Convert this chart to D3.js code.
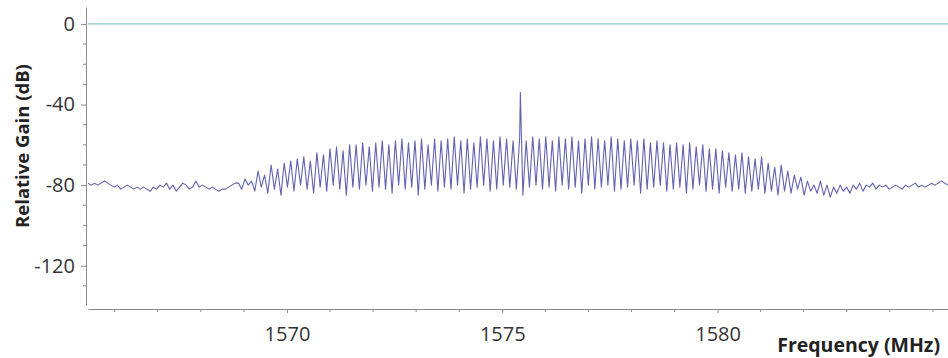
<!DOCTYPE html>
<html><head><meta charset="utf-8">
<script src="https://cdn.jsdelivr.net/npm/d3@7"></script>
<style>body{margin:0;background:#fff}svg{display:block}</style>
</head><body>
<svg id="c" width="948" height="358"></svg>
<script>
// Sweep settings (MHz)
const sweepStart = 1565.38;
const sweepStop = 1585.35;
// Noise floor left of the comb (dB)
const floorLeft = [-79,-80,-79,-80,-79,-78,-79,-80,-81,-80,-82,-81,-80,-81,-82,-81,-82,-81,-82,-83,-81,-82,-80,-81,-79,-82,-80,-83,-81,-79,-80,-82,-81,-78,-81,-80,-81,-82,-81,-82,-83,-82,-82,-81,-80,-79];
// Comb peaks (dB)
const combPeaks = [-79,-77,-78,-73,-75,-70,-72,-69,-68,-67,
  -66,-68,-64,-65,-62,-61,-63,-60,-60,-59,
  -61,-59,-58,-60,-58,-57,-59,-58,-57,-60,
  -57,-58,-57,-56,-58,-57,-59,-56,-57,-58,
  -56,-57,-58,-57,-58,-56,-57,-56,-58,-56,
  -57,-56,-58,-57,-56,-57,-58,-56,-57,-58,
  -57,-58,-57,-59,-58,-59,-60,-59,-60,-59,
  -61,-60,-62,-62,-63,-64,-65,-64,-66,-67,
  -66,-69,-71,-70,-73,-75,-76,-78];
// Comb troughs (dB)
const combTroughs = [-82,-80,-83,-81,-84,-82,-85,-81,-83,-80,
  -82,-84,-81,-83,-80,-82,-85,-81,-82,-80,
  -83,-81,-82,-84,-80,-82,-81,-85,-82,-80,
  -83,-81,-82,-80,-84,-82,-81,-80,-83,-82,
  -80,-81,-82,-85,-81,-80,-82,-81,-83,-80,
  -82,-81,-84,-80,-82,-81,-80,-83,-82,-81,
  -80,-84,-82,-81,-80,-83,-82,-81,-84,-82,
  -80,-83,-82,-84,-81,-83,-82,-84,-83,-82,
  -84,-83,-85,-83,-84,-82,-85,-83];
// Noise floor right of the comb (dB)
const floorRight = [-80,-84,-78,-85,-80,-86,-81,-84,-80,-83,-81,-84,-80,-82,-79,-83,-80,-81,-79,-82,-80,-81,-80,-82,-81,-80,-81,-82,-80,-81,-80,-79,-81,-80,-81,-80,-79,-80,-79,-78,-79,-80];
// Carrier spike
const carrierFreq = [1575.42];
const carrierDb = [-34];
// Axis ticks
const yTicks = [-120, -80, -40, 0];
const xTicks = [1570, 1575, 1580];
const xTitle = "Frequency (MHz)";
const yTitle = "Relative Gain (dB)";

// Build trace
const vals = [...floorLeft];
combPeaks.forEach((p, i) => { vals.push(p); if (i < combTroughs.length) vals.push(combTroughs[i]); });
vals.push(...floorRight);
const step = (sweepStop - sweepStart) / (vals.length - 1);
let trace = vals.map((v, i) => ({f: sweepStart + i * step, db: v}));
carrierFreq.forEach((f, i) => trace.push({f, db: carrierDb[i]}));
trace.sort((a, b) => a.f - b.f);

const svg = d3.select("#c");
const x = d3.scaleLinear().domain([1565.38, 1585.35]).range([88, 948]);
const y = d3.scaleLinear().domain([-139.5, 8.4]).range([305, 7]);

svg.append("defs").append("clipPath").attr("id", "clip")
  .append("rect").attr("x", 88).attr("y", 7).attr("width", 860).attr("height", 298);

// zero line
svg.append("line").attr("x1", 88).attr("x2", 948).attr("y1", y(0)).attr("y2", y(0))
  .attr("stroke", "#86c3cc").attr("stroke-width", 1.2);

// trace
svg.append("path").datum(trace).attr("clip-path", "url(#clip)")
  .attr("fill", "none").attr("stroke", "#6262b0").attr("stroke-width", 1.1)
  .attr("stroke-linejoin", "round")
  .attr("d", d3.line().x(d => x(d.f)).y(d => y(d.db)));

const axisColor = "#8a8a8a";
const labelFont = "'Open Sans', sans-serif";

// Y axis
const yAxis = svg.append("g").attr("transform", "translate(86,0)")
  .call(d3.axisLeft(y).tickValues(yTicks).tickSize(5).tickSizeOuter(0).tickPadding(6).tickFormat(d => String(d)));
yAxis.selectAll("text").attr("font-family", labelFont).attr("font-size", 20).attr("fill", "#333");
yAxis.selectAll("line, path").attr("stroke", axisColor);
const yMinor = d3.range(-130, 10, 10).filter(v => !yTicks.includes(v));
svg.append("g").selectAll("line").data(yMinor).join("line")
  .attr("x1", 83).attr("x2", 86).attr("y1", d => y(d)).attr("y2", d => y(d)).attr("stroke", axisColor);

// X axis
const xAxis = svg.append("g").attr("transform", "translate(0,309)")
  .call(d3.axisBottom(x).tickValues(xTicks).tickSize(4).tickSizeOuter(0).tickPadding(14).tickFormat(d => String(d)));
xAxis.selectAll("text").attr("font-family", labelFont).attr("font-size", 20).attr("fill", "#333");
xAxis.selectAll("line, path").attr("stroke", axisColor);
const xMinor = d3.range(1566, 1586, 1).filter(v => !xTicks.includes(v));
svg.append("g").selectAll("line").data(xMinor).join("line")
  .attr("x1", d => x(d)).attr("x2", d => x(d)).attr("y1", 309).attr("y2", 312).attr("stroke", axisColor);

// Titles
svg.append("text").attr("x", 940).attr("y", 352).attr("text-anchor", "end")
  .attr("font-family", labelFont).attr("font-weight", "bold").attr("font-size", 19.5).attr("fill", "#222")
  .text(xTitle);
svg.append("text").attr("transform", "translate(29,146) rotate(-90)").attr("text-anchor", "middle")
  .attr("font-family", labelFont).attr("font-weight", "bold").attr("font-size", 18.5).attr("fill", "#222")
  .text(yTitle);
</script>
</body></html>
